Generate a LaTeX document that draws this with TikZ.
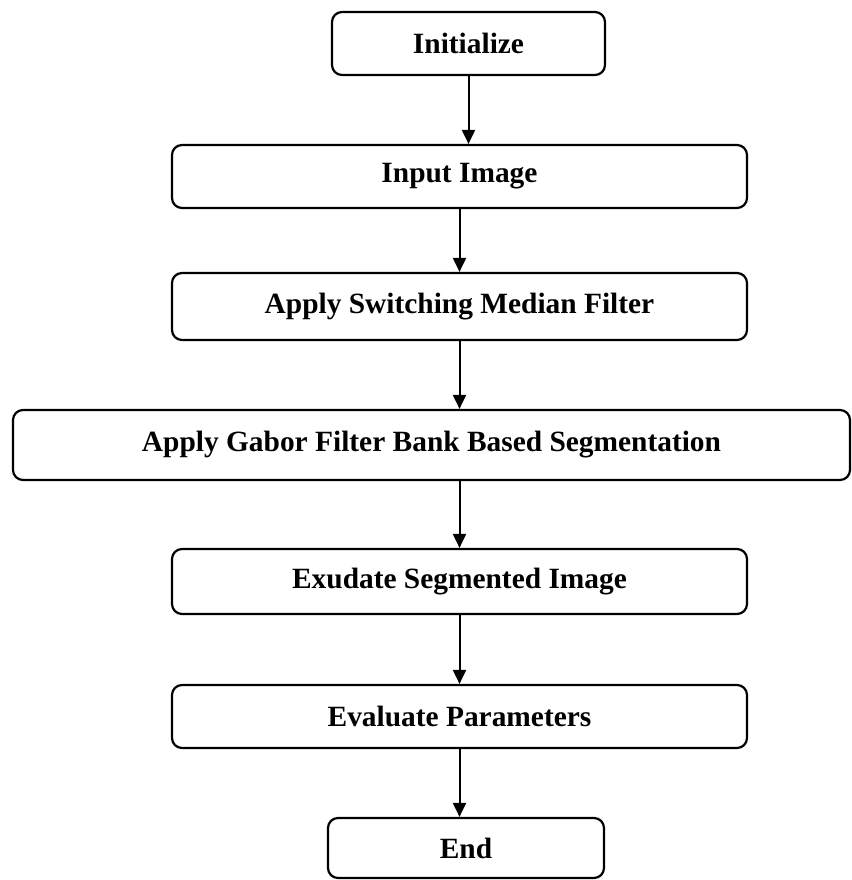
\documentclass[tikz,border=0pt]{standalone}
\usepackage{fontspec}
\setmainfont{Liberation Serif}
\usetikzlibrary{arrows.meta}
\tikzset{
    procbox/.style={draw, line width=1.1pt, rounded corners=5pt, inner sep=0pt,
        font=\bfseries\fontsize{14.7}{17}\selectfont},
    flow/.style={-{Triangle[length=7pt, width=6.5pt]}, line width=1pt}
}

\begin{document}
\begin{tikzpicture}[x=0.5pt, y=-0.5pt]
    \useasboundingbox (0,0) rectangle (852,880);
    % Process steps
    \node[procbox, minimum width=136.5pt, minimum height=31.5pt] (init) at (468.5, 43.5) {Initialize};
    \node[procbox, minimum width=287.5pt, minimum height=31.5pt] (input) at (459.5, 176.5) {Input Image};
    \node[procbox, minimum width=287.5pt, minimum height=33.5pt] (median) at (459.5, 306.5) {Apply Switching Median Filter};
    \node[procbox, minimum width=418.5pt, minimum height=35pt] (gabor) at (431.5, 445) {Apply Gabor Filter Bank Based Segmentation};
    \node[procbox, minimum width=287.5pt, minimum height=32.5pt] (exudate) at (459.5, 581.5) {Exudate Segmented Image};
    \node[procbox, minimum width=287.5pt, minimum height=31.5pt] (params) at (459.5, 716.5) {Evaluate Parameters};
    \node[procbox, minimum width=138pt, minimum height=30pt] (stop) at (466, 848) {End};
    % Arrows
    \draw[flow] (init.south) -- (init.south |- input.north);
    \draw[flow] (input.south) -- (median.north);
    \draw[flow] (median.south) -- (median.south |- gabor.north);
    \draw[flow] (exudate.north |- gabor.south) -- (exudate.north);
    \draw[flow] (exudate.south) -- (params.north);
    \draw[flow] (params.south) -- (params.south |- stop.north);
\end{tikzpicture}
\end{document}
